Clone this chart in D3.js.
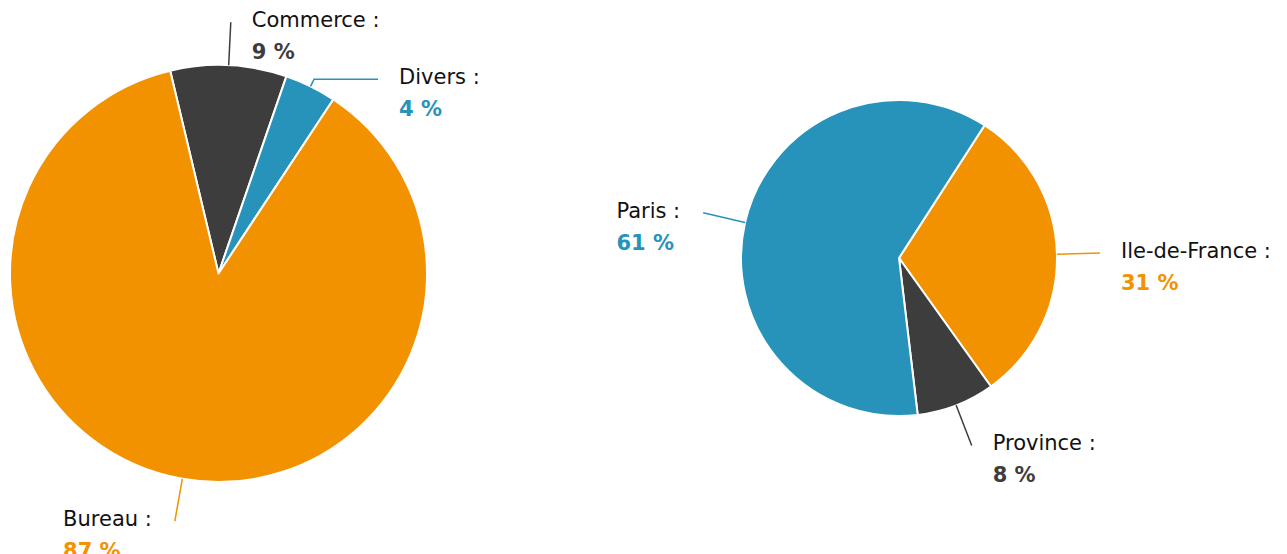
<!DOCTYPE html>
<html>
<head>
<meta charset="utf-8">
<script src="https://cdn.jsdelivr.net/npm/d3@7"></script>
<style>
  body { margin: 0; background: #fff; }
  text { font-family: "DejaVu Sans", sans-serif; }
</style>
</head>
<body>
<div id="chart"></div>
<script>
// Data
const activityLabels = ["Commerce", "Divers", "Bureau"];
const activityValues = [9, 4, 87];
const activityColors = ["#3d3d3d", "#2793ba", "#f39200"];

const regionLabels = ["Ile-de-France", "Province", "Paris"];
const regionValues = [31, 8, 61];
const regionColors = ["#f39200", "#3d3d3d", "#2793ba"];

const width = 1287;
const height = 554;

const svg = d3.select("#chart")
  .append("svg")
  .attr("width", width)
  .attr("height", height);

// Draw one pie with outside labels and connectors
function drawPie(opts) {
  const g = svg.append("g")
    .attr("transform", `translate(${opts.cx}, ${opts.cy})`);

  const slices = opts.labels.map((label, i) => ({
    label: label,
    value: opts.values[i],
    color: opts.colors[i]
  }));

  const pie = d3.pie()
    .sort(null)
    .value(d => d.value)
    .startAngle(opts.startAngle)
    .endAngle(opts.startAngle + 2 * Math.PI);

  const arc = d3.arc()
    .innerRadius(0)
    .outerRadius(opts.r);

  const arcs = pie(slices);

  g.selectAll(".slice")
    .data(arcs)
    .enter()
    .append("path")
    .attr("class", "slice")
    .attr("d", arc)
    .attr("fill", d => d.data.color)
    .attr("stroke", "#fff")
    .attr("stroke-width", 2)
    .attr("stroke-linejoin", "round");

  arcs.forEach(d => {
    const a = (d.startAngle + d.endAngle) / 2;
    const c = opts.connectors[d.data.label] || { radial: 43, tail: 0 };
    const right = Math.sin(a) >= 0;
    const x0 = opts.r * Math.sin(a);
    const y0 = -opts.r * Math.cos(a);
    const x1 = (opts.r + c.radial) * Math.sin(a);
    const y1 = -(opts.r + c.radial) * Math.cos(a);
    const x2 = x1 + (right ? c.tail : -c.tail);

    g.append("path")
      .attr("d", d3.line()([[x0, y0], [x1, y1], [x2, y1]]))
      .attr("fill", "none")
      .attr("stroke", d.data.color)
      .attr("stroke-width", 1.5);

    const tx = x2 + (right ? 21 : -23);
    const label = g.append("text")
      .attr("text-anchor", right ? "start" : "end")
      .attr("x", tx)
      .attr("y", y1 + 5)
      .style("font-size", "21px");

    label.append("tspan")
      .attr("x", tx)
      .attr("fill", "#111")
      .text(`${d.data.label} :`);

    label.append("tspan")
      .attr("x", right ? tx : tx - (label.node().getComputedTextLength()))
      .attr("dy", 32)
      .attr("fill", d.data.color)
      .attr("font-weight", "bold")
      .attr("text-anchor", "start")
      .text(`${d.data.value} %`);
  });
}

drawPie({
  cx: 218.5, cy: 273.5, r: 208.5,
  startAngle: -13.4 * Math.PI / 180,
  labels: activityLabels, values: activityValues, colors: activityColors,
  connectors: { Divers: { radial: 8, tail: 64 } }
});

drawPie({
  cx: 899, cy: 258, r: 158,
  startAngle: 32.8 * Math.PI / 180,
  labels: regionLabels, values: regionValues, colors: regionColors,
  connectors: {}
});
</script>
</body>
</html>
